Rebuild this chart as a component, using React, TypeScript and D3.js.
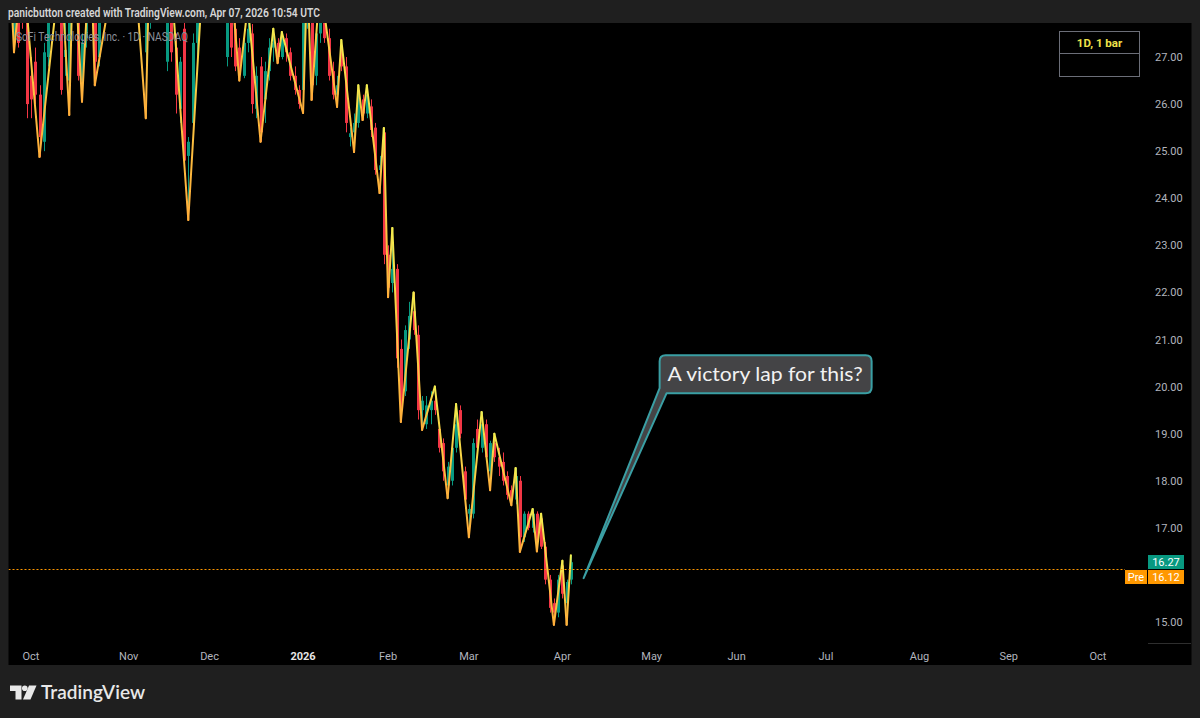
import React from 'react';
import * as d3 from 'd3';

// ---------- DATA ----------
const startDate = '2025-09-24';
const holidays = ['2025-11-27', '2025-12-25', '2026-01-01', '2026-01-19', '2026-02-16', '2026-04-03', '2026-05-25', '2026-06-19', '2026-07-03', '2026-09-07'];
const monthNames = ['Jan', 'Feb', 'Mar', 'Apr', 'May', 'Jun', 'Jul', 'Aug', 'Sep', 'Oct', 'Nov', 'Dec'];

const opens = [28.4, 27.4, 28.6, 28.7, 27.9, 26.6, 26.9, 26.2, 25.2, 27.0, 28.2, 28.5, 28.4, 27.0, 26.5, 28.1, 28.9, 26.5, 27.4, 29.1, 28.0, 27.0, 28.6, 29.6, 30.0, 29.7, 30.0, 29.2, 30.0, 29.2, 28.5, 29.0, 27.1, 27.9, 29.2, 28.4, 28.8, 26.9, 28.2, 27.2, 25.9, 27.6, 24.9, 25.6, 27.3, 28.4, 29.1, 29.0, 28.4, 28.8, 29.3, 27.0, 28.9, 27.6, 27.2, 26.6, 27.3, 27.5, 25.9, 26.8, 26.1, 26.7, 27.2, 27.3, 27.0, 27.4, 27.1, 26.6, 26.3, 26.3, 27.9, 28.2, 26.6, 27.5, 28.3, 27.4, 26.7, 26.2, 27.2, 26.8, 25.3, 25.4, 25.6, 26.1, 25.8, 25.95, 25.5, 24.6, 25.4, 22.8, 22.2, 22.5, 20.8, 19.9, 21.0, 21.6, 21.1, 19.5, 19.2, 19.5, 19.7, 19.1, 18.8, 17.9, 18.0, 18.7, 19.5, 18.2, 17.3, 17.3, 19.1, 18.7, 19.2, 18.2, 18.8, 18.5, 18.4, 18.1, 17.8, 17.6, 18.0, 16.8, 17.3, 17.0, 17.3, 17.2, 16.6, 15.9, 15.4, 15.2, 16.2, 15.4, 15.9];
const highs = [29.0, 28.3, 28.8, 29.0, 28.1, 27.0, 27.2, 26.4, 27.3, 28.4, 28.8, 28.9, 29.0, 28.0, 28.3, 29.4, 29.1, 27.5, 29.0, 29.5, 28.2, 28.8, 29.6, 30.2, 30.4, 30.3, 30.4, 30.1, 30.6, 29.5, 29.3, 29.2, 28.1, 29.6, 29.4, 29.0, 29.0, 28.2, 28.6, 27.5, 27.0, 27.9, 25.3, 27.5, 28.6, 29.3, 29.6, 29.2, 28.9, 29.5, 29.6, 29.8, 29.1, 27.8, 27.4, 27.6, 28.1, 27.7, 26.8, 27.0, 26.9, 27.4, 27.6, 27.4, 27.53, 27.5, 27.2, 26.8, 26.4, 28.2, 28.8, 28.4, 27.7, 28.6, 28.5, 27.6, 26.9, 26.6, 27.36, 27.0, 25.5, 25.8, 26.4, 26.2, 26.4, 26.1, 25.6, 24.9, 25.49, 23.0, 23.37, 22.6, 21.0, 21.3, 21.8, 22.0, 21.3, 19.8, 19.8, 19.9, 20.0, 19.2, 18.9, 18.4, 18.8, 19.63, 19.6, 18.3, 17.5, 18.9, 19.3, 19.46, 19.3, 18.85, 19.0, 18.7, 18.6, 18.2, 17.9, 18.27, 18.1, 17.35, 17.35, 17.4, 17.35, 17.3, 16.7, 16.0, 15.5, 16.0, 16.3, 15.9, 16.42];
const lows = [27.9, 27.1, 27.2, 27.6, 25.7, 25.7, 26.0, 24.88, 25.0, 26.8, 27.9, 27.9, 26.2, 26.6, 25.77, 27.9, 26.5, 26.05, 27.2, 27.8, 26.4, 26.8, 28.3, 29.2, 29.4, 29.1, 28.9, 28.9, 29.5, 28.2, 28.2, 27.8, 25.7, 27.6, 28.2, 28.0, 27.9, 26.7, 26.9, 25.8, 25.6, 24.7, 23.54, 25.3, 27.0, 28.1, 28.8, 28.0, 28.1, 28.6, 28.6, 26.8, 27.0, 26.7, 26.5, 26.55, 27.1, 25.8, 25.7, 25.2, 25.6, 26.5, 26.9, 26.87, 26.95, 26.9, 26.5, 26.2, 25.9, 25.81, 27.6, 26.09, 26.4, 27.3, 27.3, 26.5, 26.1, 25.94, 26.7, 25.4, 25.1, 24.98, 25.5, 25.66, 25.7, 25.3, 24.5, 24.11, 22.6, 21.9, 22.0, 20.4, 19.25, 19.8, 20.8, 21.1, 19.3, 19.08, 19.1, 19.2, 19.4, 18.6, 18.0, 17.63, 17.9, 18.6, 18.9, 17.4, 16.8, 17.2, 18.6, 18.6, 18.4, 17.8, 18.4, 18.1, 17.9, 17.6, 17.48, 17.5, 16.49, 16.7, 16.95, 16.9, 16.5, 16.55, 15.8, 15.2, 14.94, 15.1, 15.5, 14.94, 15.8];
const closes = [28.0, 28.1, 27.3, 27.9, 26.0, 26.1, 26.2, 25.3, 27.1, 28.2, 28.6, 28.1, 26.3, 27.15, 28.1, 29.0, 26.6, 27.3, 28.8, 28.0, 26.9, 28.6, 29.4, 30.0, 29.7, 30.1, 29.2, 29.9, 29.8, 28.4, 29.0, 28.0, 27.9, 29.3, 28.5, 28.7, 28.0, 27.9, 27.1, 26.2, 26.9, 24.8, 25.2, 27.3, 28.4, 29.1, 29.2, 28.3, 28.7, 29.3, 28.8, 28.9, 27.2, 26.8, 26.7, 27.3, 27.6, 26.0, 26.6, 25.4, 26.7, 27.2, 27.3, 27.0, 27.4, 27.1, 26.6, 26.3, 26.0, 27.9, 28.2, 26.4, 27.5, 28.3, 27.4, 26.6, 26.2, 26.4, 26.8, 25.6, 25.38, 25.6, 26.1, 25.8, 26.2, 25.45, 24.6, 24.7, 22.8, 22.1, 22.5, 20.6, 19.6, 21.2, 21.5, 21.2, 19.5, 19.7, 19.6, 19.7, 19.5, 18.7, 18.2, 18.3, 18.7, 19.2, 19.0, 17.6, 17.4, 18.8, 18.7, 19.2, 18.5, 18.8, 18.5, 18.3, 18.0, 17.7, 17.6, 18.1, 16.8, 17.3, 17.0, 17.3, 16.7, 16.6, 15.9, 15.3, 15.2, 15.9, 15.6, 15.85, 16.27];

// zigzag pivots (bar indices), alternating high / low, starting with a high
const pivotBars = [0, 1, 3, 7, 12, 14, 15, 17, 19, 20, 28, 32, 33, 36, 38, 42, 46, 47, 51, 54, 56, 59, 62, 63, 64, 69, 70, 71, 73, 77, 78, 81, 82, 83, 84, 87, 88, 89, 90, 92, 95, 97, 100, 103, 105, 108, 111, 113, 114, 118, 119, 120, 123, 124, 125, 128, 130, 131, 132];

const yTicks = [15, 17, 18, 19, 20, 21, 22, 23, 24, 25, 26, 27];
const lastPrice = 16.27;
const prePrice = 16.12;
const headerText = 'panicbutton created with TradingView.com, Apr 07, 2026 10:54 UTC';
const legendText = 'SoFi Technologies, Inc. · 1D · NASDAQ';
const intervalText = '1D, 1 bar';
const calloutText = 'A victory lap for this?';
const calloutBar = 135;
const calloutPrice = 15.93;

// ---------- HELPERS ----------
function tradingDays(start: string, count: number): Date[] {
  const out: Date[] = [];
  const d = new Date(start + 'T00:00:00Z');
  while (out.length < count) {
    const dow = d.getUTCDay();
    const iso = d.toISOString().slice(0, 10);
    if (dow !== 0 && dow !== 6 && !holidays.includes(iso)) out.push(new Date(d.getTime()));
    d.setUTCDate(d.getUTCDate() + 1);
  }
  return out;
}

const UP = '#089981';
const DOWN = '#f23645';
const AXIS_TXT = '#b2b5be';
const BG = '#1f1f1f';

export default function App() {
  const days = tradingDays(startDate, 275);
  const ticks: { k: number; label: string; bold: boolean }[] = [];
  for (let k = 1; k < days.length; k++) {
    if (days[k].getUTCMonth() !== days[k - 1].getUTCMonth()) {
      const m = days[k].getUTCMonth();
      const yr = days[k].getUTCFullYear();
      if (yr === 2026 && m > 9) break;
      ticks.push({ k, label: m === 0 ? String(yr) : monthNames[m], bold: m === 0 });
    }
  }
  const x = d3.scaleLinear().domain([ticks[0].k, ticks[ticks.length - 1].k]).range([31, 1098]);
  const y = d3.scaleLinear().domain([15, 27]).range([622, 57]);

  const plot = { left: 8.5, right: 1148, top: 23, bottom: 643 };
  const frame = { left: 8.5, right: 1191.5, top: 23, bottom: 665 };

  const bw = 3;
  const candles = closes.map((c, k) => {
    const o = opens[k];
    const up = c >= o;
    const col = up ? UP : DOWN;
    const cx = Math.round(x(k));
    const top = y(Math.max(o, c));
    const bot = y(Math.min(o, c));
    return (
      <g key={k}>
        <line x1={cx + 0.5} x2={cx + 0.5} y1={y(highs[k])} y2={y(lows[k])} stroke={col} strokeWidth={1} />
        <rect x={cx - 1} y={top} width={bw} height={Math.max(1, bot - top)} fill={col} />
      </g>
    );
  });

  const pts = pivotBars.map((k, j) => ({ x: x(k), y: y(j % 2 === 0 ? highs[k] : lows[k]), high: j % 2 === 0 }));
  const segs = pts.slice(1).map((p, j) => ({ a: pts[j], b: p }));
  const YEL = '#f3ec4e';
  const ORG = '#ffad3a';

  // callout geometry anchored to data point
  const ax = x(calloutBar);
  const ay = y(calloutPrice);
  const bx0 = ax + 76, bx1 = ax + 288, by0 = ay - 223, by1 = ay - 185, r = 6;
  const calloutPath = `M ${bx0 + r},${by0} H ${bx1 - r} Q ${bx1},${by0} ${bx1},${by0 + r} V ${by1 - r} Q ${bx1},${by1} ${bx1 - r},${by1} H ${bx0 + 7} L ${ax},${ay} L ${bx0},${by1 - 5} V ${by0 + r} Q ${bx0},${by0} ${bx0 + r},${by0} Z`;

  const fontAxis = 'Roboto, "Liberation Sans", Arial, sans-serif';
  const preY = Math.round(y(prePrice));

  return (
    <svg width={1200} height={718} style={{ position: 'absolute', left: 0, top: 0, display: 'block' }}>
      <defs>
        <clipPath id="plotClip">
          <rect x={plot.left} y={plot.top} width={plot.right - plot.left} height={plot.bottom - plot.top} />
        </clipPath>
        {segs.map((s, i) => (
          <linearGradient key={i} id={`zg${i}`} gradientUnits="userSpaceOnUse" x1={s.a.x} y1={s.a.y} x2={s.b.x} y2={s.b.y}>
            <stop offset="0" stopColor={s.a.high ? YEL : ORG} />
            <stop offset="1" stopColor={s.b.high ? YEL : ORG} />
          </linearGradient>
        ))}
      </defs>
      <rect x={0} y={0} width={1200} height={718} fill={BG} />
      <rect x={frame.left} y={frame.top} width={frame.right - frame.left} height={frame.bottom - frame.top} fill="#000" />

      <text x={8} y={17} fill="#d6d6d6" fontFamily={fontAxis} fontSize={12.5} fontWeight={600} textLength={312} lengthAdjust="spacingAndGlyphs">{headerText}</text>

      <g clipPath="url(#plotClip)">
        {candles}
        {segs.map((s, i) => (
          <line key={i} x1={s.a.x} y1={s.a.y} x2={s.b.x} y2={s.b.y} stroke={`url(#zg${i})`} strokeWidth={2} strokeLinecap="round" />
        ))}
        <line x1={plot.left} x2={1125} y1={preY + 0.5} y2={preY + 0.5} stroke="#ff9800" strokeWidth={1} strokeDasharray="2,2" />
      </g>

      <text x={16} y={41} fill="#8c8f99" fontFamily={fontAxis} fontSize={12} textLength={172} lengthAdjust="spacingAndGlyphs">{legendText}</text>

      {/* interval box */}
      <rect x={1059.5} y={31.5} width={80} height={45} fill="#000" stroke="#6b6e78" strokeWidth={1} />
      <line x1={1059.5} x2={1139.5} y1={53.5} y2={53.5} stroke="#6b6e78" strokeWidth={1} />
      <text x={1099.5} y={47} textAnchor="middle" fill="#efe24a" fontFamily={fontAxis} fontSize={11.5} fontWeight={700}>{intervalText}</text>

      {/* callout */}
      <path d={calloutPath} fill="#444446" stroke="#3a9fa4" strokeWidth={2} strokeLinejoin="round" />
      <text x={bx0 + 8} y={by0 + 26} fill="#f2f2f2" fontFamily='Lato, "Open Sans", sans-serif' fontSize={20} textLength={195} lengthAdjust="spacingAndGlyphs">{calloutText}</text>

      {/* price axis */}
      {yTicks.map((v) => (
        <text key={v} x={1155} y={y(v) + 4} fill={AXIS_TXT} fontFamily={fontAxis} fontSize={11}>{v.toFixed(2)}</text>
      ))}
      <rect x={1148} y={Math.round(y(lastPrice)) - 7} width={36} height={14} fill={UP} />
      <text x={1166} y={Math.round(y(lastPrice)) + 4} textAnchor="middle" fill="#fff" fontFamily={fontAxis} fontSize={11}>{lastPrice.toFixed(2)}</text>
      <rect x={1125} y={preY + 1} width={22} height={14} fill="#ff9800" />
      <text x={1136} y={preY + 12} textAnchor="middle" fill="#fff" fontFamily={fontAxis} fontSize={11}>Pre</text>
      <rect x={1148} y={preY + 1} width={36} height={14} fill="#ff9800" />
      <text x={1166} y={preY + 12} textAnchor="middle" fill="#fff" fontFamily={fontAxis} fontSize={11}>{prePrice.toFixed(2)}</text>

      <line x1={1148} x2={1191} y1={643.5} y2={643.5} stroke="#2e2e2e" strokeWidth={1} />

      {/* time axis */}
      {ticks.map((t) => (
        <text key={t.k} x={x(t.k)} y={660} textAnchor="middle" fill={t.bold ? '#e6e6e6' : AXIS_TXT} fontFamily={fontAxis} fontSize={11} fontWeight={t.bold ? 700 : 400}>{t.label}</text>
      ))}

      {/* TradingView logo */}
      <g fill="#e8e8e8">
        <path d="M10,685.5 H21.5 V699.5 H15.5 V691 H10 Z" />
        <circle cx={24.8} cy={688.3} r={2.8} />
        <path d="M29,685.5 H36.5 L30.5,699.5 H23 Z" />
      </g>
      <text x={41} y={699} fill="#e8e8e8" fontFamily='Lato, "Open Sans", sans-serif' fontSize={20} fontWeight={600} textLength={104} lengthAdjust="spacingAndGlyphs">TradingView</text>
    </svg>
  );
}
